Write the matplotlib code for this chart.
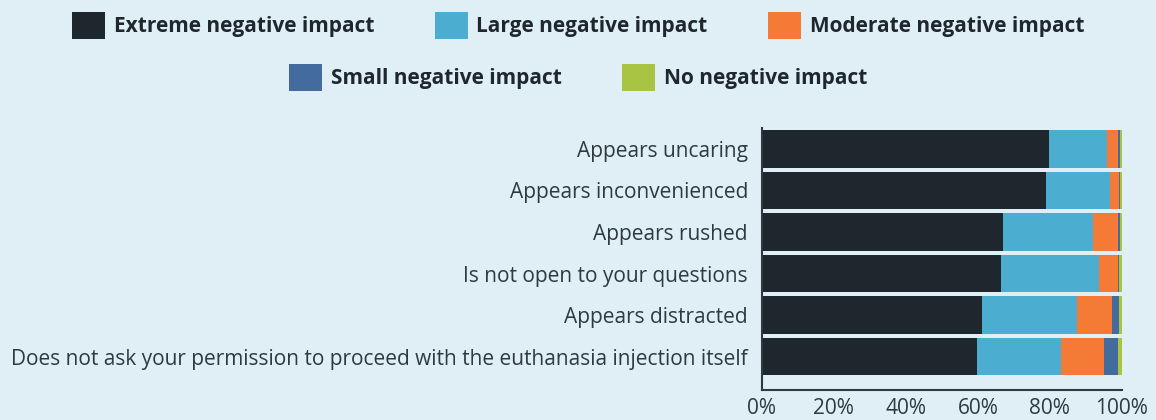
import numpy as np
import matplotlib.pyplot as plt
from matplotlib.patches import Patch

plt.rcParams['font.family'] = ['Open Sans', 'DejaVu Sans']

categories = ['Appears uncaring',
              'Appears inconvenienced',
              'Appears rushed',
              'Is not open to your questions',
              'Appears distracted',
              'Does not ask your permission to proceed with the euthanasia injection itself']
series_names = ['Extreme negative impact', 'Large negative impact', 'Moderate negative impact',
                'Small negative impact', 'No negative impact']
extreme = [79.7, 78.9, 66.9, 66.4, 61.1, 59.7]
large = [16.3, 17.8, 25.0, 27.2, 26.4, 23.5]
moderate = [2.9, 2.5, 7.0, 5.3, 9.7, 11.8]
small = [0.5, 0.2, 0.5, 0.4, 2.0, 3.9]
none_ = [0.6, 0.6, 0.6, 0.7, 0.8, 1.1]
colors = ['#1e272e', '#4badd0', '#f47a36', '#446b9e', '#a8c442']

bg = '#e0eef5'
fig = plt.figure(figsize=[11.56, 4.2], dpi=100, facecolor=bg)
ax = fig.add_axes([0.659, 0.0714, 0.3115, 0.6236], facecolor=bg)

y = np.arange(len(categories))
left = np.zeros(len(categories))
for vals, col, name in zip([extreme, large, moderate, small, none_], colors, series_names):
    ax.barh(y, vals, left=left, height=0.9, color=col, label=name)
    left += np.array(vals)

ax.set_ylim(5.8, -0.5)
ax.set_xlim(0, 100)
ax.set_yticks(y)
ax.set_yticklabels(categories, fontsize=15, color='#2e3a40')
ax.set_xticks(np.arange(0, 101, 20))
ax.set_xticklabels(['{:d}%'.format(v) for v in range(0, 101, 20)], fontsize=15, color='#2e3a40')
ax.tick_params(length=0, pad=10)
ax.tick_params(axis='x', pad=6)
for s in ['top', 'right']:
    ax.spines[s].set_visible(False)
for s in ['left', 'bottom']:
    ax.spines[s].set_color('#2e3a40')
    ax.spines[s].set_linewidth(1.5)

# legend in two centred rows
handles = [Patch(facecolor=c, edgecolor='none') for c in colors]
kw = dict(frameon=False, handlelength=1.6, handleheight=1.6, handletextpad=0.4,
          prop={'weight': 'bold', 'size': 15}, labelcolor='#1e272e')
leg1 = fig.legend(handles[:3], series_names[:3], ncol=3, loc='center',
                  bbox_to_anchor=(0.5, 0.94), columnspacing=2.9, **kw)
leg2 = fig.legend(handles[3:], series_names[3:], ncol=2, loc='center',
                  bbox_to_anchor=(0.5, 0.816), columnspacing=2.9, **kw)

plt.savefig('out.png', dpi=100, facecolor=bg)
